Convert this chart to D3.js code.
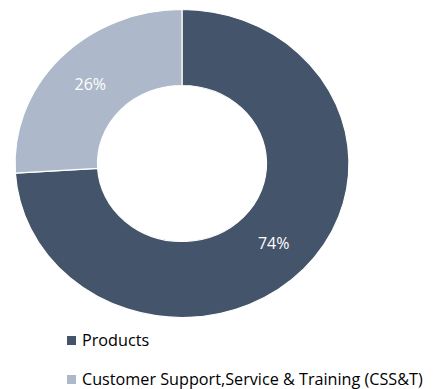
<!DOCTYPE html>
<html>
<head>
<meta charset="utf-8">
<script src="https://cdn.jsdelivr.net/npm/d3@7"></script>
<style>
  html, body { margin: 0; padding: 0; background: #fff; }
  svg { display: block; }
  text { font-family: "Open Sans", "Liberation Sans", sans-serif; }
</style>
</head>
<body>
<svg id="chart" width="436" height="389"></svg>
<script>
// Revenue split
const categories = ["Products", "Customer Support,Service & Training (CSS&T)"];
const values = [74, 26];
const colors = ["#44546A", "#ADB9CA"];

const svg = d3.select("#chart");
const cx = 182, cy = 163.5;
const outerR = 154, innerR = 78;
const sx = 1.084; // horizontal stretch of the ring

const pie = d3.pie().sort(null).value(d => d.value);
const arcs = pie(categories.map((c, i) => ({ name: c, value: values[i], color: colors[i] })));
const arc = d3.arc().innerRadius(innerR).outerRadius(outerR);

const ring = svg.append("g")
  .attr("transform", `translate(${cx},${cy}) scale(${sx},1)`);

ring.selectAll("path")
  .data(arcs)
  .join("path")
  .attr("d", arc)
  .attr("fill", d => d.data.color)
  .attr("stroke", "#fff")
  .attr("stroke-width", 1.2)
  .attr("vector-effect", "non-scaling-stroke");

// Percent labels at slice centroids
const total = d3.sum(values);
svg.append("g")
  .selectAll("text")
  .data(arcs)
  .join("text")
  .attr("x", d => cx + arc.centroid(d)[0] * sx)
  .attr("y", d => cy + arc.centroid(d)[1])
  .attr("dy", "0.36em")
  .attr("text-anchor", "middle")
  .attr("fill", "#fff")
  .attr("font-size", 16)
  .text(d => Math.round(d.data.value / total * 100) + "%");

// Legend
const legendBase = [346, 385];
const legend = svg.append("g");
const items = legend.selectAll("g")
  .data(categories)
  .join("g")
  .attr("transform", (d, i) => `translate(67,${legendBase[i]})`);

items.append("rect")
  .attr("x", 0)
  .attr("y", -10)
  .attr("width", 9)
  .attr("height", 9)
  .attr("fill", (d, i) => colors[i]);

items.append("text")
  .attr("x", 15)
  .attr("y", 0)
  .attr("fill", "#000")
  .attr("font-size", 16.2)
  .text(d => d);
</script>
</body>
</html>
